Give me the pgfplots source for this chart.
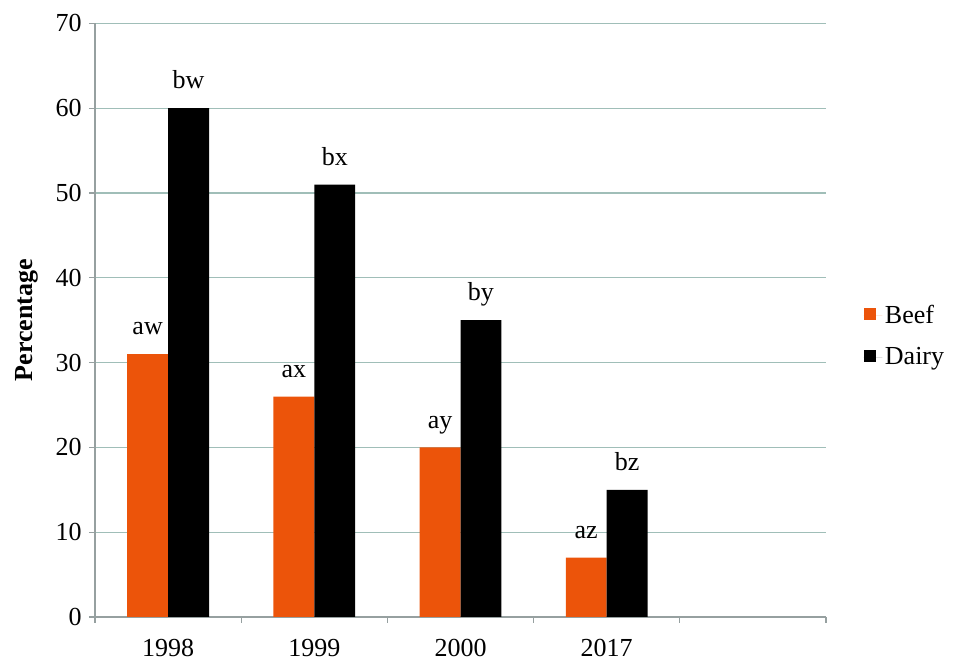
\documentclass[border=0pt]{standalone}
\usepackage{pgfplots}
\pgfplotsset{compat=1.18}
\usepackage{fontspec}
\setmainfont{Liberation Serif}
\definecolor{beef}{RGB}{236,84,10}
\definecolor{gridc}{RGB}{160,190,184}
\definecolor{axisc}{RGB}{150,160,160}
\newcommand{\cf}{\fontsize{19.5}{23}\selectfont}
\pgfplotsset{sqlegend/.style={legend image code/.code={\fill[##1] (0pt,-3.5pt) rectangle (9pt,5.5pt); \path (0pt,0pt) -- (14pt,0pt);}}}
\begin{document}
\begin{tikzpicture}
\begin{axis}[
  scale only axis, width=548.25pt, height=445.2pt,
  at={(0,0)}, anchor=south west,
  xmin=-0.5, xmax=4.5, ymin=0, ymax=70,
  axis lines=left,
  axis line style={draw=axisc, line width=0.8pt, -},
  xtick={-0.5,0.5,1.5,2.5,3.5,4.5}, xticklabels={},
  extra x ticks={0,1,2,3},
  extra x tick labels={1998,1999,2000,2017},
  extra x tick style={grid=none, major tick length=0pt, xticklabel style={yshift=-13pt, text height=13pt, text depth=0pt}},
  ytick={0,10,...,70},
  tick style={draw=axisc, line width=0.8pt},
  tick align=outside, major tick length=4.5pt,
  ymajorgrids, grid style={draw=gridc, line width=0.8pt},
  tick label style={font=\cf},
  /pgf/number format/assume math mode=true,
  yticklabel style={xshift=-2pt},
  ylabel={Percentage},
  every axis y label/.style={at={(axis description cs:-0.0935,0.5)}, rotate=90, anchor=center, font=\cf\bfseries},
  ybar, bar width=0.28,
  point meta=explicit symbolic,
  nodes near coords,
  nodes near coords style={font=\cf, text depth=0pt, inner sep=0pt, anchor=south, yshift=14.3pt, text=black},
  legend style={at={(1,0.473)}, anchor=west, xshift=25pt, draw=none, fill=none, font=\cf, row sep=12.5pt, legend cell align=left},
]
\addplot[fill=beef, draw=none, bar shift=-0.14, sqlegend] coordinates {(0,31) [aw] (1,26) [ax] (2,20) [ay] (3,7) [az]};
\addplot[fill=black, draw=none, bar shift=0.14, sqlegend] coordinates {(0,60) [bw] (1,51) [bx] (2,35) [by] (3,15) [bz]};
\legend{Beef,Dairy}
\end{axis}
\path[use as bounding box] (-71.25pt,-30.75pt) rectangle (645.75pt,462.75pt);
\end{tikzpicture}
\end{document}
